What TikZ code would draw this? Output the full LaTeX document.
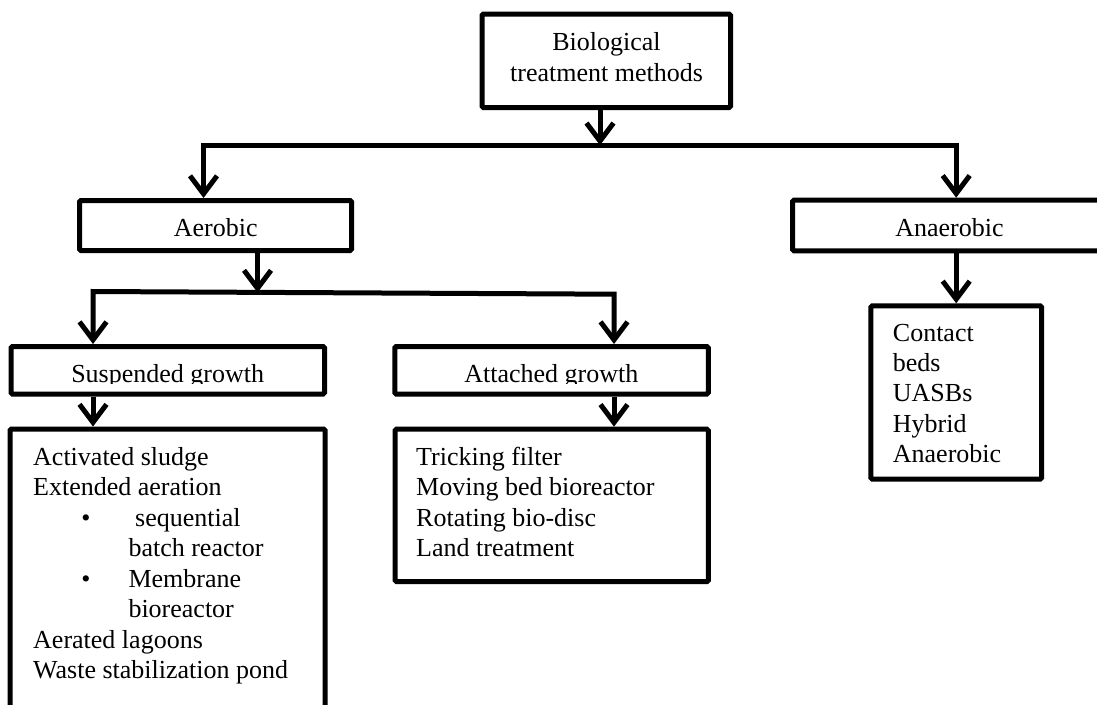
\documentclass[tikz,border=0pt]{standalone}
\usepackage{fontspec}
\setmainfont{Liberation Serif}
\usetikzlibrary{arrows.meta}
\begin{document}
\begin{tikzpicture}[x=1pt,y=-1pt,
  box/.style={draw, line width=5pt, rounded corners=1.5pt, inner sep=0pt, fill=white},
  txt/.style={font=\fontsize{26}{30.5}\selectfont, inner sep=0pt},
  barb/.tip={Straight Barb[length=18pt,width=27pt]},
  conn/.style={line width=5pt, -barb},
  bus/.style={line width=5pt, barb-barb},
]
\useasboundingbox (0,0) rectangle (1097,704);
\fill[white] (0,0) rectangle (1097,704);
\clip (0,0) rectangle (1097,704);

% root
\node[box, minimum width=248.5pt, minimum height=93.5pt] (root) at (606.25,60.75) {};
\node[txt, anchor=base] (root1) at (606.5,50.7) {Biological};
\node[txt, anchor=base] (root2) at (606.5,81.7) {treatment methods};

% second level
\node[box, minimum width=272pt, minimum height=50pt] (aer) at (215.5,225.5) {};
\node[txt, anchor=base] (aert) at (215.7,236.7) {Aerobic};
\node[box, minimum width=317.5pt, minimum height=50.6pt] (ana) at (951.25,225.5) {};
\node[txt, anchor=base] (anat) at (949.5,236.7) {Anaerobic};

% third level
\node[box, minimum width=313.5pt, minimum height=47.5pt] (susp) at (167.75,370.25) {};
\node[box, minimum width=313.5pt, minimum height=47.5pt] (att) at (551.5,370.25) {};
\begin{scope}
  \clip (0,0) rectangle (1097,383.5);
  \node[txt, anchor=base] (suspt) at (167.7,382.7) {Suspended growth};
  \node[txt, anchor=base] (attt) at (551.3,382.7) {Attached growth};
\end{scope}

% lists
\node[box, minimum width=315pt, minimum height=301pt] (suspl) at (167.5,579.5) {};
\node[box, minimum width=313.3pt, minimum height=152.5pt] (attl) at (551.65,505.45) {};
\node[box, minimum width=170.9pt, minimum height=173.4pt] (anal) at (956.25,392.5) {};

\node[txt, anchor=base west] (s1) at (33,465) {Activated sludge};
\node[txt, anchor=base west] (s2) at (33,495.5) {Extended aeration};
\node[txt, anchor=base] (b1) at (86,526) {•};
\node[txt, anchor=base west] (s3) at (135,526) {sequential};
\node[txt, anchor=base west] (s4) at (128.3,556.5) {batch reactor};
\node[txt, anchor=base] (b2) at (86,587) {•};
\node[txt, anchor=base west] (s5) at (128.3,587) {Membrane};
\node[txt, anchor=base west] (s6) at (128.3,617.5) {bioreactor};
\node[txt, anchor=base west] (s7) at (33,648) {Aerated lagoons};
\node[txt, anchor=base west] (s8) at (33,678.5) {Waste stabilization pond};

\node[txt, anchor=base west] (a1) at (416,465) {Tricking filter};
\node[txt, anchor=base west] (a2) at (416,495.5) {Moving bed bioreactor};
\node[txt, anchor=base west] (a3) at (416,526) {Rotating bio-disc};
\node[txt, anchor=base west] (a4) at (416,556.5) {Land treatment};

\node[txt, anchor=base west] (n1) at (892.7,341) {Contact};
\node[txt, anchor=base west] (n2) at (892.7,371.4) {beds};
\node[txt, anchor=base west] (n3) at (892.7,401.8) {UASBs};
\node[txt, anchor=base west] (n4) at (892.7,432.2) {Hybrid};
\node[txt, anchor=base west] (n5) at (892.7,462.6) {Anaerobic};

% connectors
\coordinate (j0) at (600,145.2);
\coordinate (bl) at (203.5,145.2);
\coordinate (br) at (956.2,145.2);
\draw[conn] (root.south -| j0) -- (j0);
\draw[bus] (aer.north -| bl) -- (bl) -- (br) -- (ana.north -| br);

\coordinate (j1) at (257.5,292.5);
\coordinate (cl) at (93,291.5);
\coordinate (cr) at (614,294.2);
\draw[conn] (aer.south -| j1) -- (j1);
\draw[bus] (susp.north -| cl) -- (cl) -- (cr) -- (att.north -| cr);

\draw[conn] (susp.south -| cl) -- (suspl.north -| cl);
\draw[conn] (att.south -| cr) -- (attl.north -| cr);
\draw[conn] (ana.south -| br) -- (anal.north -| br);
\end{tikzpicture}
\end{document}
